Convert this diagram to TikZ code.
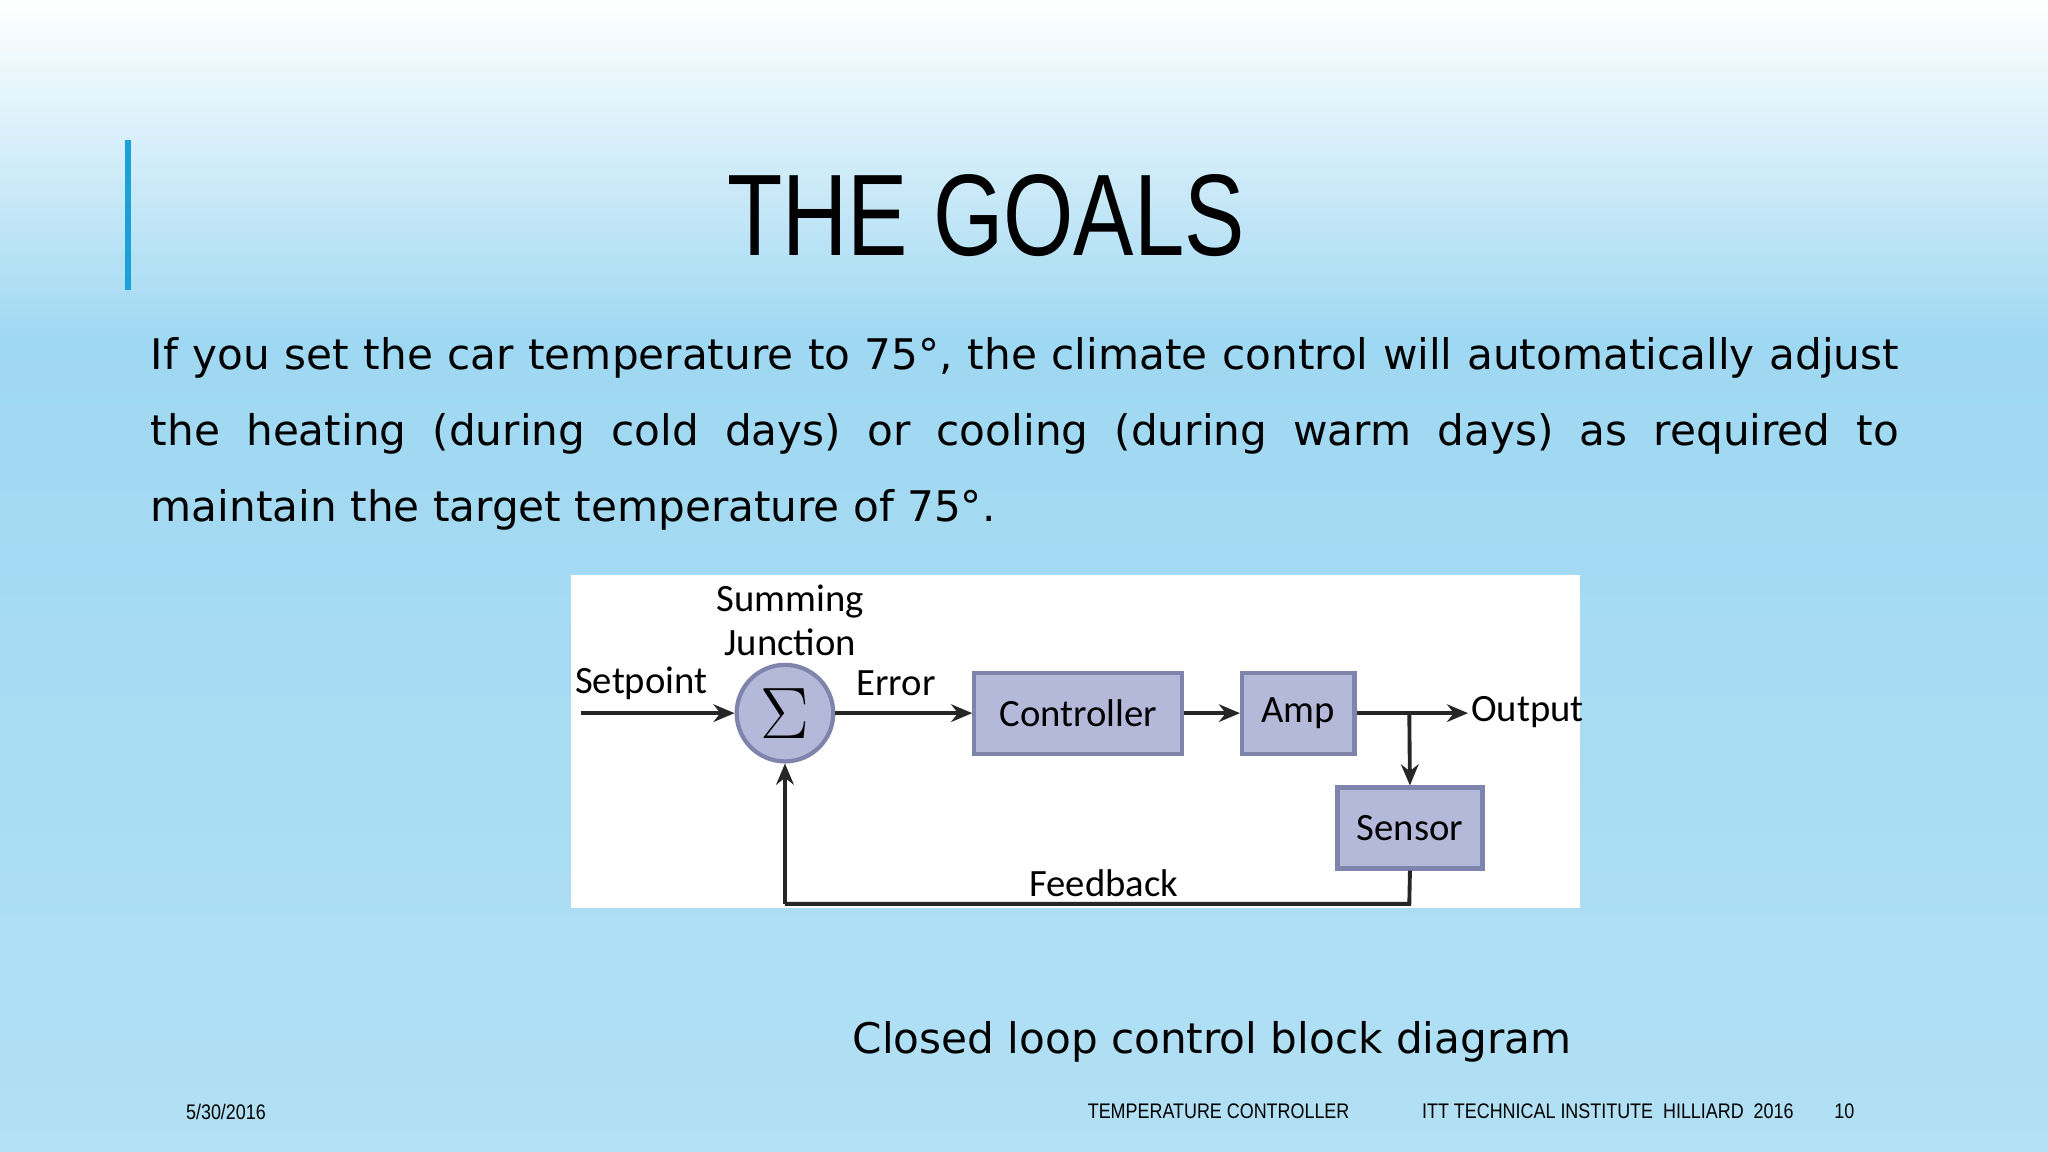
\documentclass[tikz,border=0pt]{standalone}
\usepackage{fontspec}
\setmainfont{DejaVu Sans}
\newfontfamily\titlefont{Liberation Sans}
\newfontfamily\diagfont{Carlito}
\usetikzlibrary{arrows.meta}
\definecolor{bgtop}{HTML}{FFFFFF}
\definecolor{bgmid}{HTML}{9FD8F2}
\definecolor{bgbot}{HTML}{B2E0F4}
\definecolor{blockfill}{HTML}{B4B9DA}
\definecolor{blockline}{HTML}{7E84AC}
\definecolor{accent}{HTML}{1BA1D8}
\tikzset{
  blk/.style={draw=blockline,fill=blockfill,line width=1.2pt,inner sep=0pt,font=\diagfont\fontsize{11}{12}\selectfont},
  lbl/.style={font=\diagfont\fontsize{11}{12.5}\selectfont,inner sep=0pt,align=center},
  conn/.style={line width=1.1pt,draw=black!85,-{Stealth[length=6pt,width=5pt]}},
  wire/.style={line width=1.1pt,draw=black!85},
  foot/.style={font=\titlefont\fontsize{6}{6}\selectfont\addfontfeature{FakeStretch=0.85},inner sep=0pt}
}
\begin{document}
\begin{tikzpicture}[x=0.013061cm,y=-0.013061cm]
\useasboundingbox (0,0) rectangle (1568,882);
\shade[top color=bgtop,bottom color=bgmid] (0,0) rectangle (1568,260);
\shade[top color=bgmid,bottom color=bgbot] (0,260) rectangle (1568,882);
\draw[accent,line width=1.5pt] (98,107) -- (98,222);
\node[font=\titlefont\fontsize{33}{33}\selectfont\addfontfeature{FakeStretch=0.78}] (title) at (755,165) {THE GOALS};
\node[anchor=north west,text width=17.48cm,align=justify,inner sep=0pt,font=\fontsize{12}{21.6}\selectfont] (body) at (115,258)
 {If you set the car temperature to 75°, the climate control will automatically adjust\linebreak the heating (during cold days) or cooling (during warm days) as required to\linebreak maintain the target temperature of 75°.};
\fill[white] (437,440) rectangle (1210,695);
\node[circle,draw=blockline,fill=blockfill,line width=1.2pt,minimum size=0.966cm,inner sep=0pt,font=\fontsize{20}{20}\selectfont] (sum) at (601,546) {$\Sigma$};
\node[blk,minimum width=2.077cm,minimum height=0.81cm] (ctrl) at (825.5,546) {Controller};
\node[blk,minimum width=1.123cm,minimum height=0.81cm] (amp) at (994,546) {Amp};
\node[blk,minimum width=1.45cm,minimum height=0.81cm] (sens) at (1079.5,634) {Sensor};
\coordinate (sp) at (445,546);
\coordinate (out) at (1124,546);
\coordinate (br) at (1079,546);
\coordinate (fbR) at (1079,692);
\coordinate (fbL) at (601,692);
\draw[conn] (sp) -- (sum.west);
\draw[conn] (sum.east) -- (ctrl.west);
\draw[conn] (ctrl.east) -- (amp.west);
\draw[conn] (amp.east) -- (out);
\draw[conn] (br) -- (sens.north);
\draw[wire] (sens.south) -- (fbR) -- (fbL);
\draw[conn] (fbL) -- (sum.south);
\node[lbl] (sj) at (605,475) {Summing\\Junction};
\node[lbl] (spl) at (491,523) {Setpoint};
\node[lbl] (err) at (686,523) {Error};
\node[lbl] (fb) at (845,676) {Feedback};
\node[lbl,anchor=west] (outl) at (1126,545) {Output};
\node[font=\fontsize{12}{13}\selectfont] (cap) at (928,798) {Closed loop control block diagram};
\node[foot] (f1) at (173,851) {5/30/2016};
\node[foot] (f2) at (933,851) {TEMPERATURE CONTROLLER};
\node[foot] (f3) at (1231,851) {ITT TECHNICAL INSTITUTE\ \ HILLIARD\ \ 2016};
\node[foot] (f4) at (1412,851) {10};
\end{tikzpicture}
\end{document}
